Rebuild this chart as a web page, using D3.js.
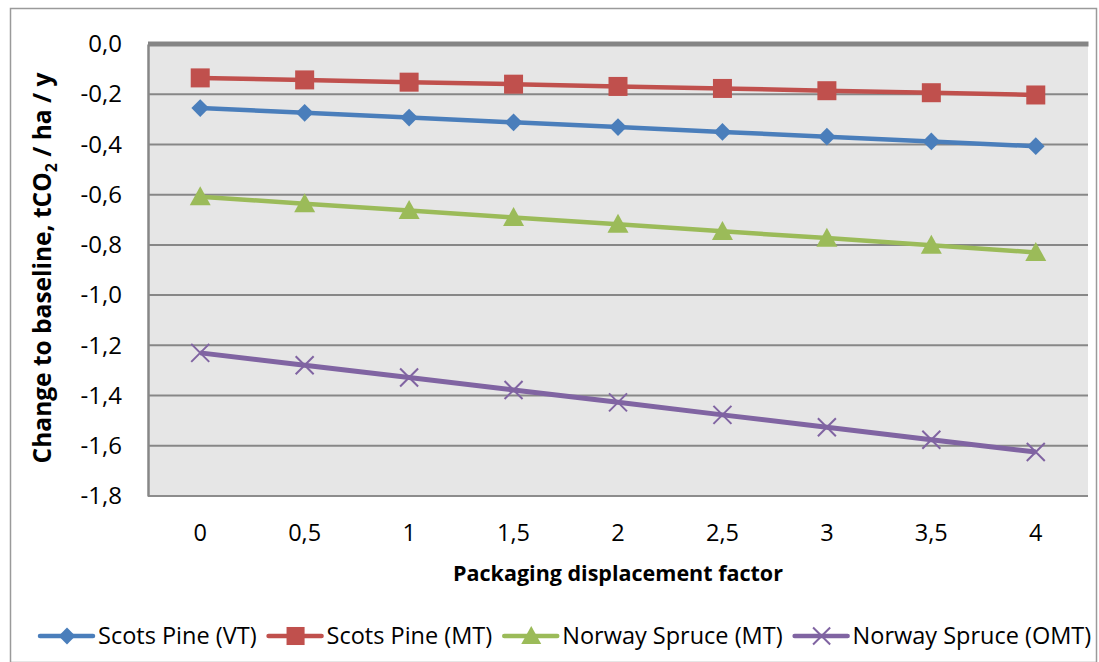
<!DOCTYPE html>
<html>
<head>
<meta charset="utf-8">
<script src="https://cdn.jsdelivr.net/npm/d3@7"></script>
<style>
  html, body { margin: 0; padding: 0; background: #fff; }
  svg { display: block; font-family: "Open Sans", "Liberation Sans", sans-serif; }
</style>
</head>
<body>
<svg id="chart" width="1099" height="662"></svg>
<script>
// Packaging displacement factor (category axis)
const categories = ["0", "0,5", "1", "1,5", "2", "2,5", "3", "3,5", "4"];

// Change to baseline, tCO2 / ha / y
const scotsPineVT   = [-0.255, -0.274, -0.293, -0.312, -0.331, -0.350, -0.369, -0.388, -0.407];
const scotsPineMT   = [-0.135, -0.143, -0.152, -0.160, -0.169, -0.177, -0.186, -0.194, -0.203];
const norwaySpruceMT  = [-0.608, -0.636, -0.663, -0.691, -0.718, -0.746, -0.773, -0.801, -0.830];
const norwaySpruceOMT = [-1.230, -1.279, -1.328, -1.378, -1.427, -1.477, -1.526, -1.576, -1.625];

const yTicks = [0, -0.2, -0.4, -0.6, -0.8, -1.0, -1.2, -1.4, -1.6, -1.8];

const seriesNames = ["Scots Pine (VT)", "Scots Pine (MT)", "Norway Spruce (MT)", "Norway Spruce (OMT)"];
const seriesValues = [scotsPineVT, scotsPineMT, norwaySpruceMT, norwaySpruceOMT];
const seriesColors = ["#4a7ebb", "#c0504d", "#9bbb59", "#8064a2"];
const seriesMarkers = ["diamond", "square", "triangle", "cross"];

const svg = d3.select("#chart");
const W = 1099, H = 662;
const FONT = "Open Sans, Liberation Sans, sans-serif";

// outer chart border
svg.append("rect")
  .attr("x", 10.5).attr("y", 8.5)
  .attr("width", W - 13).attr("height", H - 8)
  .attr("fill", "#fff").attr("stroke", "#9a9a9a").attr("stroke-width", 1.5);

const plot = { left: 148, right: 1088, top: 44, bottom: 496 };

const x = d3.scaleBand().domain(categories).range([plot.left, plot.right]);
const y = d3.scaleLinear().domain([-1.8, 0]).range([plot.bottom, plot.top]);
const fmt = v => d3.format(".1f")(v).replace("−", "-").replace(".", ",");

// plot area background
svg.append("rect")
  .attr("x", plot.left).attr("y", plot.top)
  .attr("width", plot.right - plot.left).attr("height", plot.bottom - plot.top)
  .attr("fill", "#e6e6e6");

// horizontal gridlines
svg.append("g").selectAll("line").data(yTicks.filter(t => t !== 0 && t !== -1.8)).join("line")
  .attr("x1", plot.left).attr("x2", plot.right)
  .attr("y1", d => y(d)).attr("y2", d => y(d))
  .attr("stroke", "#878787").attr("stroke-width", 2);

// bottom frame of plot area
svg.append("line")
  .attr("x1", plot.left).attr("x2", plot.right)
  .attr("y1", y(-1.8)).attr("y2", y(-1.8))
  .attr("stroke", "#8c8c8c").attr("stroke-width", 2);

// value axis (left)
const yAxis = d3.axisLeft(y).tickValues(yTicks).tickFormat(fmt).tickSize(0).tickPadding(26);
const gy = svg.append("g").attr("transform", `translate(${plot.left},0)`).call(yAxis)
  .attr("font-size", 24).attr("font-family", FONT);
gy.select(".domain").attr("stroke", "#878787").attr("stroke-width", 2.5);
gy.selectAll("text").attr("fill", "#000");

// category axis, labels placed below the plot
const xAxis = d3.axisBottom(x).tickSize(0).tickPadding(0);
const gx = svg.append("g").attr("transform", `translate(0,${y(0)})`).call(xAxis)
  .attr("font-size", 23.5).attr("font-family", FONT);
gx.select(".domain").remove();
gx.selectAll("text")
  .attr("fill", "#000")
  .attr("y", y(-1.8) - y(0) + 45)
  .attr("dy", "0");

// zero line along the top of the plot
svg.append("line")
  .attr("x1", plot.left).attr("x2", plot.right + 0.5)
  .attr("y1", y(0)).attr("y2", y(0))
  .attr("stroke", "#858585").attr("stroke-width", 5);

// axis titles
svg.append("text")
  .attr("x", (plot.left + plot.right) / 2).attr("y", 581)
  .attr("text-anchor", "middle").attr("font-size", 21.5).attr("font-weight", "bold")
  .attr("font-family", FONT)
  .text("Packaging displacement factor");

// rotated value-axis title, centred on the plot's vertical middle
const yTitle = svg.append("text")
  .attr("transform", `translate(51,268) rotate(-90)`)
  .attr("text-anchor", "middle").attr("font-size", 24.5).attr("font-weight", "bold")
  .attr("font-family", FONT);
yTitle.append("tspan").text("Change to baseline, tCO");
yTitle.append("tspan").attr("font-size", 16).attr("dy", 6).text("2");
yTitle.append("tspan").attr("dy", -6).text(" / ha / y");

// marker shapes
function drawMarker(g, type, color, cx, cy, scale) {
  const s = scale || 1;
  if (type === "diamond") {
    g.append("path").attr("d", d3.symbol(d3.symbolDiamond2, 200 * s * s)())
      .attr("transform", `translate(${cx},${cy})`)
      .attr("fill", color);
  } else if (type === "square") {
    g.append("rect")
      .attr("x", cx - 9.5 * s).attr("y", cy - 9.5 * s)
      .attr("width", 19 * s).attr("height", 19 * s)
      .attr("fill", color);
  } else if (type === "triangle") {
    const h = 19 * s, w = 21 * s;
    g.append("path")
      .attr("d", `M${cx},${cy - h * 0.55}L${cx + w / 2},${cy + h * 0.45}L${cx - w / 2},${cy + h * 0.45}Z`)
      .attr("fill", color);
  } else {
    const r = 9 * s;
    g.append("path")
      .attr("d", `M${cx - r},${cy - r}L${cx + r},${cy + r}M${cx - r},${cy + r}L${cx + r},${cy - r}`)
      .attr("stroke", color).attr("stroke-width", 2).attr("fill", "none");
  }
}

// series lines + markers
const line = d3.line().x((d, i) => x(categories[i]) + x.bandwidth() / 2).y(d => y(d));
seriesValues.forEach((vals, k) => {
  const g = svg.append("g");
  g.append("path").datum(vals)
    .attr("d", line)
    .attr("fill", "none")
    .attr("stroke", seriesColors[k])
    .attr("stroke-width", k === 3 ? 5 : 4.5)
    .attr("stroke-linejoin", "round");
  vals.forEach((v, i) => {
    drawMarker(g, seriesMarkers[k], seriesColors[k], x(categories[i]) + x.bandwidth() / 2, y(v));
  });
});

// legend
const legend = svg.append("g");
const legendY = 636;
let lx = 40;
seriesNames.forEach((name, k) => {
  const g = legend.append("g");
  g.append("line")
    .attr("x1", lx).attr("x2", lx + 53)
    .attr("y1", legendY).attr("y2", legendY)
    .attr("stroke", seriesColors[k]).attr("stroke-width", 4.5).attr("stroke-linecap", "round");
  drawMarker(g, seriesMarkers[k], seriesColors[k], lx + 27, legendY, 0.95);
  const t = g.append("text")
    .attr("x", lx + 58).attr("y", legendY + 8)
    .attr("font-size", 23.5).attr("font-family", FONT).attr("fill", "#000")
    .text(name);
  lx += 58 + t.node().getComputedTextLength() + 12;
});
</script>
</body>
</html>
